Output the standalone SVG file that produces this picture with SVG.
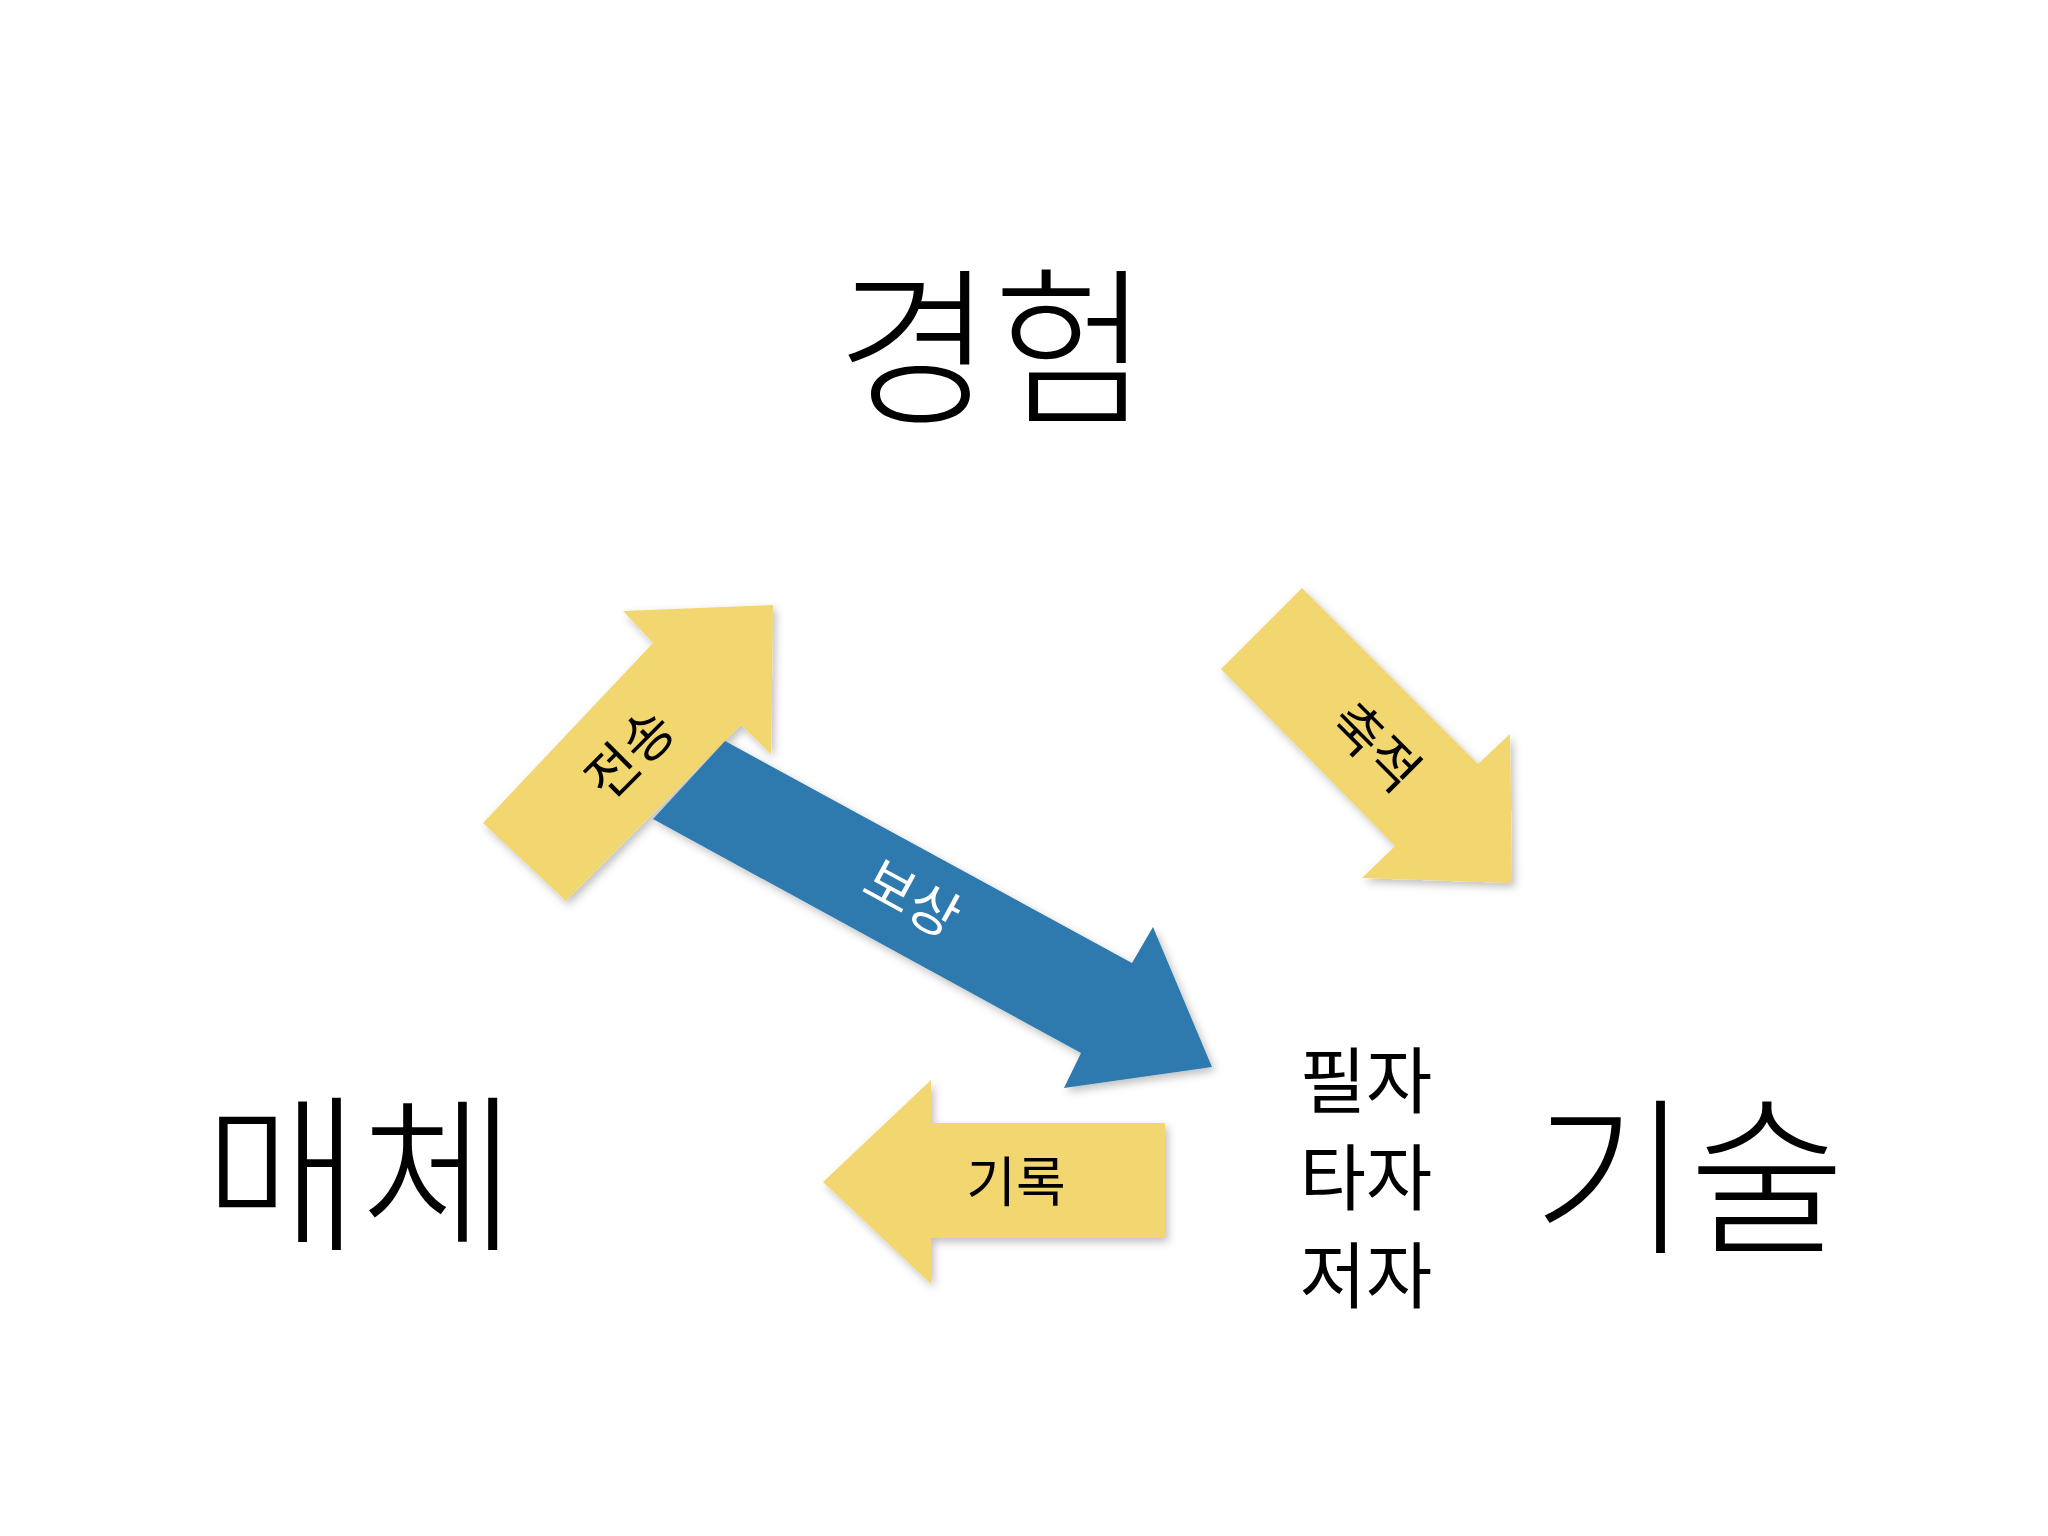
<svg xmlns="http://www.w3.org/2000/svg" width="2048" height="1536" viewBox="0 0 2048 1536">
<style>
.big{font-family:"Noto Sans CJK KR",sans-serif;font-size:170px;fill:#000;text-anchor:middle;font-weight:300}
.mid{font-family:"Noto Sans CJK KR",sans-serif;font-size:72px;fill:#000;text-anchor:middle}
.lab{font-family:"Noto Sans CJK KR",sans-serif;font-size:54px;fill:#000;text-anchor:middle;dominant-baseline:central}
.y{fill:#F2D76F}
.b{fill:#2F7AAF}
</style>
<defs><filter id="sh" x="-10%" y="-10%" width="120%" height="120%"><feDropShadow dx="3" dy="4" stdDeviation="4" flood-opacity="0.25"/></filter></defs>
<rect width="2048" height="1536" fill="#fff"/>
<g id="n1"><text class="big" x="993" y="411">경험</text></g>
<g id="n2"><text class="big" x="360" y="1238">매체</text></g>
<g id="n3"><text class="big" x="1689" y="1241">기술</text></g>
<g id="n4"><text class="mid" x="1366" y="1107">필자</text><text class="mid" x="1366" y="1204">타자</text><text class="mid" x="1366" y="1302">저자</text></g>
<g id="connectors">
<g filter="url(#sh)"><polygon class="y" points="483,823 653,643 623,611 773,605 771,754 741,725 566,901"/></g>
<text class="lab" transform="translate(627,751) rotate(-45)">전송</text>
<g filter="url(#sh)"><polygon class="y" points="1221,669 1302,588 1478,764 1510,734 1512,883 1362,878 1395,846"/></g>
<text class="lab" transform="translate(1378,744) rotate(45)">축적</text>
<g filter="url(#sh)"><polygon class="y" points="823,1182 931,1080 931,1123 1165,1123 1165,1238 931,1238 931,1284"/></g>
<text class="lab" x="1016" y="1178">기록</text>
<g filter="url(#sh)"><polygon class="b" points="725,741 1132,963 1153,927 1212,1067 1064,1088 1081,1053 653,819"/></g>
<text class="lab" style="fill:#fff" transform="translate(914,895) rotate(28.6)">보상</text>
</g>
</svg>
